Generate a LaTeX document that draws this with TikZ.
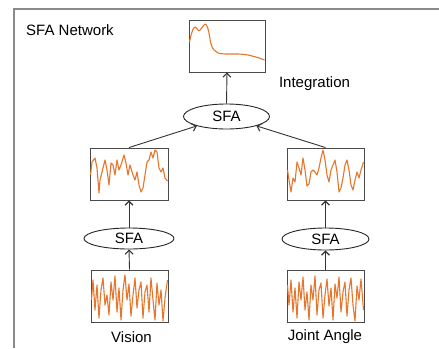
\documentclass[tikz,border=0pt]{standalone}
\usepackage{fontspec}
\setmainfont{Liberation Sans}
\usetikzlibrary{arrows.meta,shapes.geometric}
\definecolor{wave}{HTML}{E8752C}
\definecolor{edge}{HTML}{4A4A4A}
\definecolor{frame}{HTML}{8A8A8A}
\begin{document}
\begin{tikzpicture}[x=1pt,y=-1pt,
  plotbox/.style={draw=edge,line width=0.9pt,fill=white,inner sep=0pt,minimum height=52pt},
  sfanode/.style={ellipse,draw=black!85,line width=0.9pt,fill=white,inner sep=0pt,font=\fontsize{15}{17}\selectfont},
  label/.style={inner sep=0pt,font=\fontsize{15}{18}\selectfont},
  flow/.style={draw=black!80,line width=0.9pt,-{Straight Barb[length=4pt,width=8pt,line width=1.1pt]}},
  signal/.style={draw=wave,line width=1.1pt,line join=round}]
\useasboundingbox (0,0) rectangle (439,348);
% outer frame (open towards the right and bottom)
\draw[frame,line width=1.3pt] (14,348) -- (14,9) -- (439,9);
\node[label] (title) at (70,30) {SFA Network};

% plot boxes
\node[plotbox,minimum width=76pt] (integ) at (227,46) {};
\node[plotbox,minimum width=78pt] (lmid) at (129,174) {};
\node[plotbox,minimum width=77pt] (rmid) at (325.5,174) {};
\node[plotbox,minimum width=77pt] (lbot) at (129.5,296) {};
\node[plotbox,minimum width=77pt] (rbot) at (325.5,296) {};

% SFA units
\node[sfanode,minimum width=86pt,minimum height=25pt] (sfatop) at (226.5,116.5) {SFA};
\node[sfanode,minimum width=90pt,minimum height=21pt] (lsfa) at (129,238.5) {SFA};
\node[sfanode,minimum width=87pt,minimum height=22pt] (rsfa) at (325.5,239) {SFA};

% labels
\node[label] (integlabel) at (314.5,84) {Integration};
\node[label] (vision) at (131.5,337) {Vision};
\node[label] (joint) at (325,337) {Joint Angle};

% signals
\draw[signal] plot[smooth,tension=0.7] coordinates {(189.5,42) (192,32) (195,27) (198.5,30.5) (201,29) (204,25) (206.5,25) (209,33) (211,44) (214,50) (218,53) (226,54) (238,54) (248,55) (256,57) (264.5,60)};

\draw[signal] plot coordinates {(90.5,175) (92,162) (95,158) (97,168) (99,193) (100,180) (102,172) (105,160) (107,170) (109,185) (111,163) (113,165) (115,175) (117,160) (119,170) (121,165) (124,155) (126,163) (128,175) (130,165) (133,175) (135,180) (137,172) (139,185) (141,192) (143,188) (145,175) (147,162) (149,160) (151,152) (153,158) (155,150) (157,152) (159,168) (161,172) (163,168) (165,178) (167.5,181)};

\draw[signal] plot coordinates {(287.5,170) (289,180) (291,192) (293,178) (295,182) (297,162) (299,168) (301,175) (303,158) (305,170) (307,186) (309,184) (311,172) (313,170) (315,172) (317,175) (319,168) (321,158) (323,150) (325,160) (327,175) (329,182) (331,170) (333,165) (335,160) (337,172) (339,192) (341,188) (343,178) (345,165) (347,160) (349,170) (351,185) (353,190) (355,180) (357,172) (359,178) (361,170) (363.5,162)};

\draw[signal] plot coordinates {(91.5,300) (93,280) (95,310) (97,285) (99,318) (101,290) (103,278) (105,305) (107,295) (109,315) (111,282) (113,300) (115,276) (117,312) (119,288) (121,320) (123,290) (125,275) (127,300) (129,284) (131,316) (133,295) (135,278) (137,308) (139,290) (141,282) (143,318) (145,292) (147,285) (149,312) (151,278) (153,300) (155,320) (157,283) (159,305) (161,290) (163,321) (165,298) (167.5,280)};

\draw[signal] plot coordinates {(287.5,285) (289,305) (291,280) (293,312) (295,288) (297,318) (299,282) (301,300) (303,277) (305,310) (307,292) (309,320) (311,285) (313,300) (315,276) (317,315) (319,290) (321,283) (323,318) (325,295) (327,279) (329,306) (331,288) (333,320) (335,284) (337,298) (339,277) (341,312) (343,292) (345,282) (347,316) (349,290) (351,278) (353,305) (355,321) (357,286) (359,300) (361,279) (363.5,310)};

% connectors
\draw[flow] (lbot.north) -- (lsfa.south);
\draw[flow] (rbot.north) -- (rsfa.south);
\draw[flow] (lsfa.north) -- (lmid.south);
\draw[flow] (rsfa.north) -- (rmid.south);
\draw[flow] (lmid.north) -- (sfatop);
\draw[flow] (rmid.north) -- (sfatop);
\draw[flow] (sfatop.north) -- (integ.south);
\end{tikzpicture}
\end{document}
